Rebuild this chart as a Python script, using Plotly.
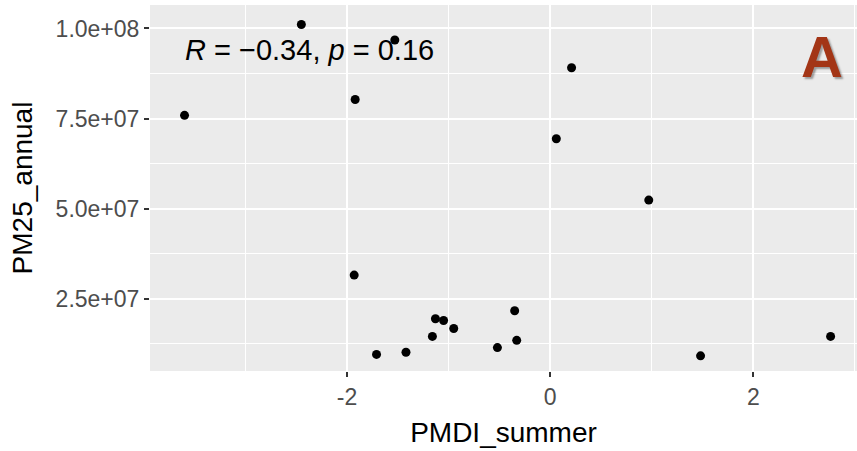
import plotly.graph_objects as go

pmdi_summer = [-3.60, -2.45, -1.53, -1.92, 0.21, 0.06, 0.97, -1.93, -1.71, -1.42,
               -1.16, -1.13, -1.05, -0.95, -0.52, -0.35, -0.33, 1.48, 2.76]
pm25_annual = [7.59e7, 1.011e8, 9.68e7, 8.03e7, 8.91e7, 6.94e7, 5.24e7, 3.16e7, 9.6e6, 1.02e7,
               1.46e7, 1.95e7, 1.90e7, 1.68e7, 1.15e7, 2.17e7, 1.35e7, 9.2e6, 1.46e7]

x_tick_vals = [-2, 0, 2]
x_tick_text = ["-2", "0", "2"]
y_tick_vals = [2.5e7, 5.0e7, 7.5e7, 1.0e8]
y_tick_text = ["2.5e+07", "5.0e+07", "7.5e+07", "1.0e+08"]

fig = go.Figure()
fig.add_trace(go.Scatter(
    x=pmdi_summer, y=pm25_annual, mode="markers",
    marker=dict(color="black", size=9),
    showlegend=False, hoverinfo="x+y"))

fig.update_layout(
    width=857, height=451,
    margin=dict(l=150, r=0, t=5, b=80),
    paper_bgcolor="white", plot_bgcolor="#EBEBEB",
    font=dict(family="Liberation Sans, Arial, sans-serif"),
)
fig.update_xaxes(
    range=[-3.94, 3.02], tickvals=x_tick_vals, ticktext=x_tick_text,
    showgrid=True, gridcolor="white", gridwidth=2, zeroline=False,
    minor=dict(dtick=1, showgrid=True, gridcolor="white", gridwidth=1),
    ticks="outside", ticklen=5, tickwidth=1.5, tickcolor="#333333",
    tickfont=dict(size=23, color="#4D4D4D"),
    title=dict(text="PMDI_summer", font=dict(size=28, color="black"), standoff=13),
    showline=False,
)
fig.update_yaxes(
    range=[5.0e6, 1.065e8], tickvals=y_tick_vals, ticktext=y_tick_text,
    showgrid=True, gridcolor="white", gridwidth=2, zeroline=False,
    minor=dict(dtick=2.5e7, tick0=1.25e7, showgrid=True, gridcolor="white", gridwidth=1),
    ticks="outside", ticklen=5, tickwidth=1.5, tickcolor="#333333",
    tickfont=dict(size=23, color="#4D4D4D"),
    title=dict(text="PM25_annual", font=dict(size=28, color="black"), standoff=14),
    showline=False,
)

fig.add_annotation(
    x=-3.62, y=9.40e7, xref="x", yref="y", xanchor="left", yanchor="middle",
    text="<i>R</i> = \u22120.34, <i>p</i> = 0.16", showarrow=False,
    font=dict(size=29, color="black"))

# panel label with a soft shadow
fig.add_annotation(
    x=0.951, y=0.859, xref="paper", yref="paper", xanchor="center", yanchor="middle",
    text="<b>A</b>", showarrow=False,
    font=dict(size=58, color="#A33516", family="Liberation Sans, Arial",
              shadow="2px 2px 2px rgba(0,0,0,0.35)"))

fig.write_html("out.html")
